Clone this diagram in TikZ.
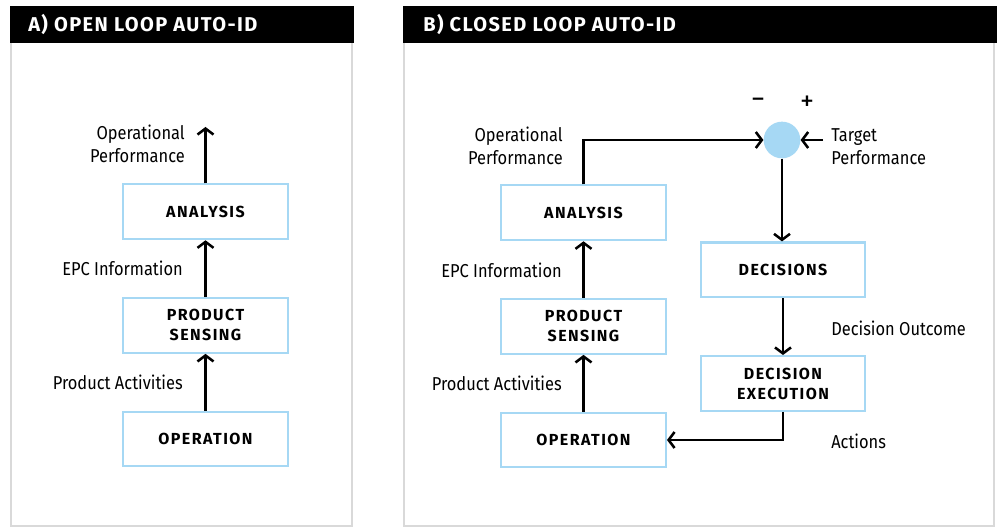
\documentclass[tikz,border=0pt]{standalone}
\usepackage{fontspec}
\setmainfont{Fira Sans}
\newfontfamily\lblfont[FakeStretch=0.88]{Fira Sans}
\newfontfamily\boxfont[LetterSpace=9]{Fira Sans}
\newfontfamily\headfont[LetterSpace=7]{Fira Sans}
\usepackage{tikz}
\usetikzlibrary{arrows.meta}
\usetikzlibrary{positioning}
\definecolor{boxblue}{HTML}{A6D8F4}
\definecolor{framegrey}{HTML}{D9D9D9}

\begin{document}
\begin{tikzpicture}[
		x=0.75pt, y=-0.75pt,
		box/.style={draw=boxblue, line width=1.6pt, minimum width=123.6pt, minimum height=41.1pt,
			inner sep=0pt, align=center, font=\boxfont\bfseries\fontsize{12}{15}\selectfont},
		lbl/.style={inner sep=0pt, font=\lblfont\fontsize{14}{17}\selectfont},
		sign/.style={inner sep=0pt, font=\fontsize{21}{21}\selectfont},
		head/.style={inner sep=0pt, anchor=west, text=white, font=\headfont\bfseries\fontsize{15}{17}\selectfont},
		arr/.style={line width=1.9pt, -{Straight Barb[length=4.5pt,width=12pt]}}
	]
	\useasboundingbox (0,0) rectangle (997,527);

	% panel frames
	\draw[framegrey, line width=1.5pt] (11,43) -- (11,525.5) -- (352,525.5) -- (352,43);
	\draw[framegrey, line width=1.5pt] (404,43) -- (404,525.5) -- (994,525.5) -- (994,43);
	\fill (10,6) rectangle (354,43);
	\fill (403,6) rectangle (997,43);
	\node[head] (hA) at (28,25) {A) OPEN LOOP AUTO-ID};
	\node[head] (hB) at (423,25) {B) CLOSED LOOP AUTO-ID};

	% open loop
	\node[box] (opA) at (205.5,439) {OPERATION};
	\node[box, above=42.5pt of opA] (psA) {PRODUCT\\SENSING};
	\node[box, above=42.5pt of psA] (anA) {ANALYSIS};
	\coordinate (topA) at (205.5,127);
	\draw[arr] (opA) -- (psA);
	\draw[arr] (psA) -- (anA);
	\draw[arr] (anA) -- (topA);
	\node[lbl, anchor=east, align=right] (perfA) at (185,144) {Operational\\Performance};
	\node[lbl, anchor=east] (epcA) at (183,268) {EPC Information};
	\node[lbl, anchor=east] (actA) at (183,382) {Product Activities};

	% closed loop
	\node[box] (opB) at (583.5,440) {OPERATION};
	\node[box, above=42.5pt of opB] (psB) {PRODUCT\\SENSING};
	\node[box, above=42.5pt of psB] (anB) {ANALYSIS};
	\node[box] (exeB) at (783,383.5) {DECISION\\EXECUTION};
	\node[box, above=42.5pt of exeB] (decB) {DECISIONS};
	\node[circle, fill=boxblue, minimum size=27.5pt, inner sep=0pt] (sum) at (782,140) {};
	\node[sign] (minus) at (758,103) {−};
	\node[sign] (plus) at (807,103) {+};
	\coordinate (tgt) at (823,140);
	\draw[arr] (opB) -- (psB);
	\draw[arr] (psB) -- (anB);
	\draw[arr] (anB.north) |- (sum.west);
	\draw[arr] (tgt) -- (sum.east);
	\draw[arr] (sum.south) -- (sum.south |- decB.north);
	\draw[arr] (decB) -- (exeB);
	\draw[arr] (exeB.south) |- (opB.east);
	\node[lbl, anchor=east, align=right] (perfB) at (563,146) {Operational\\Performance};
	\node[lbl, anchor=west, align=left] (tgtB) at (831,146.5) {Target\\Performance};
	\node[lbl, anchor=east] (epcB) at (562,270) {EPC Information};
	\node[lbl, anchor=east] (actB) at (562,383) {Product Activities};
	\node[lbl, anchor=west] (outB) at (831,328) {Decision Outcome};
	\node[lbl, anchor=west] (actnB) at (831,441) {Actions};
\end{tikzpicture}
\end{document}
